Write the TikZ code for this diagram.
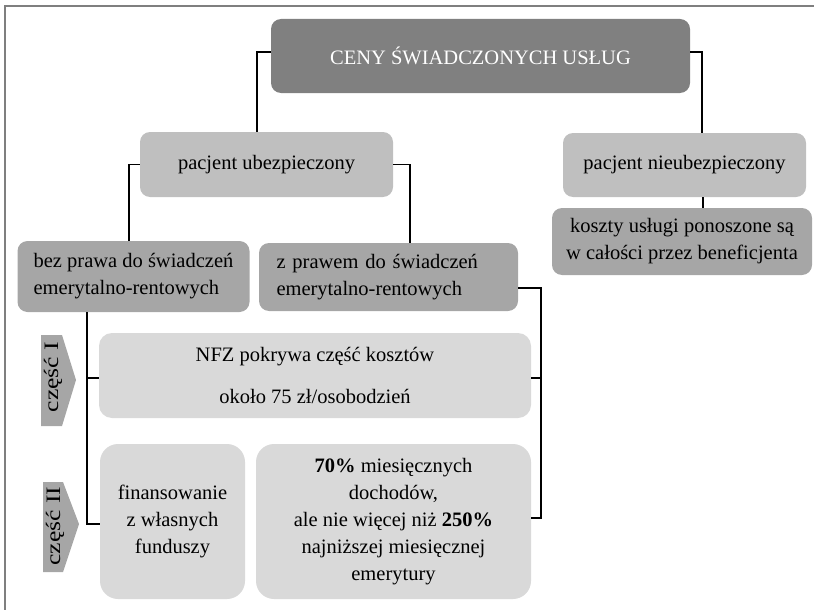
\documentclass[tikz,border=0pt]{standalone}
\usepackage{fontspec}
\setmainfont{Liberation Serif}
\usetikzlibrary{calc}
\definecolor{cTitle}{HTML}{808080}
\definecolor{cL}{HTML}{BFBFBF}
\definecolor{cM}{HTML}{A6A6A6}
\definecolor{cP}{HTML}{D9D9D9}
\definecolor{cFrame}{HTML}{7F7F7F}
\begin{document}
\begin{tikzpicture}[x=1pt,y=-1pt,
 box/.style={rounded corners=10pt, inner sep=0pt, align=center, font=\fontsize{20.5}{27}\selectfont},
 conn/.style={line width=1.3pt, black},
 tag/.style={fill=cM, draw=none},
 taglabel/.style={rotate=90, inner sep=0pt, font=\fontsize{20.5}{24}\selectfont}]
\useasboundingbox (0,0) rectangle (814,610);
% frame
\draw[cFrame, line width=1.6pt] (5,610) -- (5,6) -- (814,6);
% boxes
\node[box, fill=cTitle, text=white, minimum width=419pt, minimum height=74pt] (title) at (480.5,56) {CENY ŚWIADCZONYCH USŁUG};
\node[box, fill=cL, minimum width=253pt, minimum height=65pt] (pu) at (266.5,164.5) {pacjent ubezpieczony};
\node[box, fill=cL, minimum width=243pt, minimum height=64pt] (pn) at (684.5,165) {pacjent nieubezpieczony};
\node[box, fill=cM, minimum width=260pt, minimum height=67pt] (koszty) at (682,241.5) {koszty usługi ponoszone są\\w całości przez beneficjenta};
\node[box, fill=cM, minimum width=232pt, minimum height=71pt, align=left] (bez) at (133.5,276.5) {bez prawa do świadczeń\\emerytalno-rentowych};
\node[box, fill=cM, minimum width=259pt, minimum height=68pt, text width=224pt, align=left] (zpr) at (388.5,277) {z prawem do świadczeń\\emerytalno-rentowych};
\node[box, fill=cP, rounded corners=13pt, minimum width=432pt, minimum height=85pt] (nfz) at (315,375.5) {NFZ pokrywa część kosztów\\[15pt]około 75 zł/osobodzień};
\node[box, fill=cP, rounded corners=18pt, minimum width=145pt, minimum height=155pt] (fin) at (172.5,521.5) {finansowanie\\z własnych\\funduszy};
\node[box, fill=cP, rounded corners=18pt, minimum width=275pt, minimum height=155pt] (pct) at (393.5,521.5) {\textbf{70\%} miesięcznych\\dochodów,\\ale nie więcej niż \textbf{250\%}\\najniższej miesięcznej\\emerytury};
% tags
\fill[tag] (41,335) -- (62,335) -- (76,380) -- (62,426) -- (41,426) -- cycle;
\node[taglabel] (t1) at (53,377) {\scalebox{1.25}[1]{część I}};
\fill[tag] (43,482) -- (63,482) -- (79,524) -- (63,572) -- (43,572) -- cycle;
\node[taglabel] (t2) at (55,526) {\scalebox{1.25}[1]{część II}};
% connectors
\draw[conn] ([yshift=4pt]title.west) -| ([xshift=-9.5pt]pu.north);
\draw[conn] ([yshift=4pt]title.east) -| ([xshift=17.5pt]pn.north);
\draw[conn] (pu.west) -| ([xshift=-4.5pt]bez.north);
\draw[conn] (pu.east) -| ([xshift=21.5pt]zpr.north);
\draw[conn] ([xshift=18.5pt]pn.south) -- ([xshift=18.5pt]pn.south |- koszty.north);
\coordinate (rx) at (541,288);
\draw[conn] ([yshift=-11pt]zpr.east) -- (rx) |- ([yshift=3.5pt]pct.east);
\draw[conn] ([yshift=-2.5pt]nfz.east) -- ([yshift=-2.5pt]nfz.east -| rx);
\coordinate (lx) at (87,524);
\draw[conn] ([xshift=-46.5pt]bez.south) |- ([yshift=-2.5pt]fin.west);
\draw[conn] ([yshift=-2.5pt]nfz.west) -- ([yshift=-2.5pt]nfz.west -| lx);
\end{tikzpicture}
\end{document}
